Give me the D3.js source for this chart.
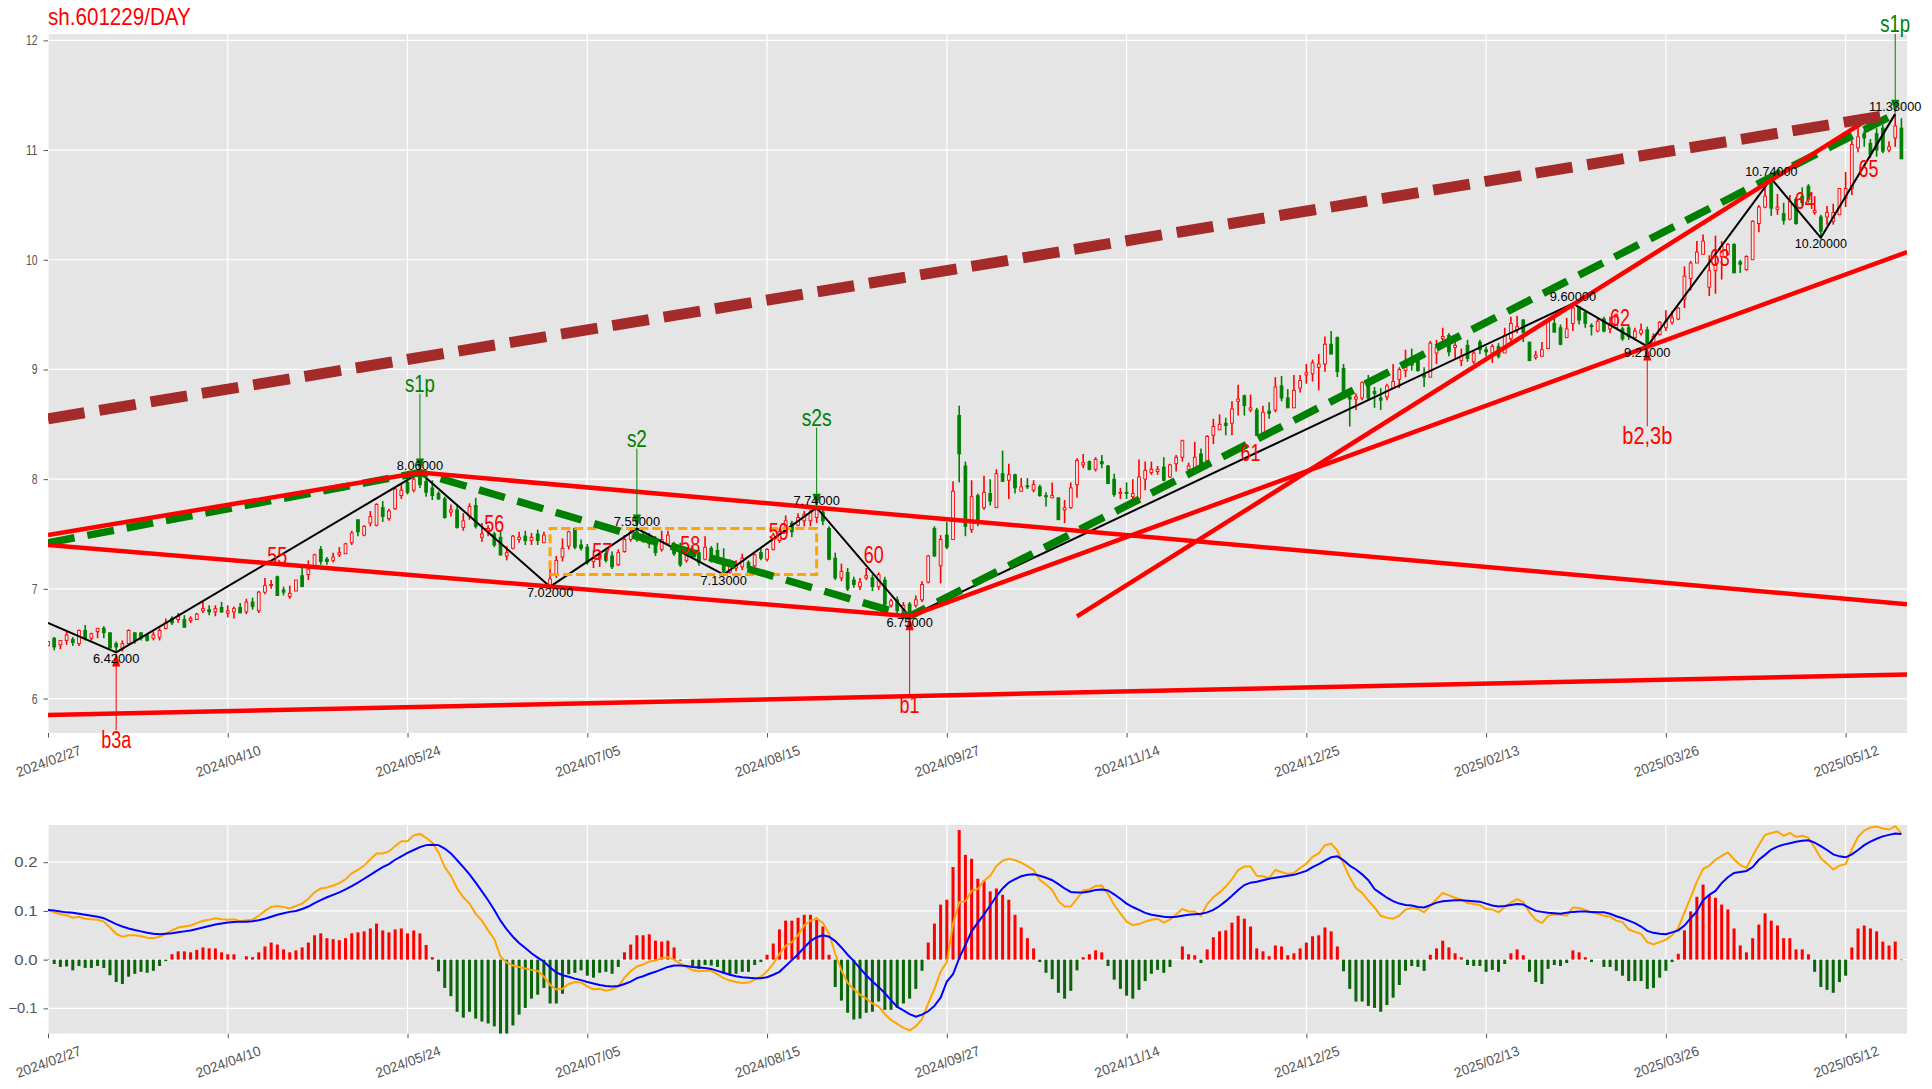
<!DOCTYPE html>
<html>
<head>
<meta charset="utf-8">
<script src="https://cdn.jsdelivr.net/npm/d3@7"></script>
<style>
body { margin: 0; background: #fff; }
text { font-family: "Liberation Sans", "DejaVu Sans", sans-serif; }
</style>
</head>
<body>
<script>
var tickIdx = [0, 29, 58, 87, 116, 145, 174, 203, 232, 261, 290];
var tickLabels = ["2024/02/27", "2024/04/10", "2024/05/24", "2024/07/05", "2024/08/15", "2024/09/27", "2024/11/14", "2024/12/25", "2025/02/13", "2025/03/26", "2025/05/12"];
var priceTicks = [6, 7, 8, 9, 10, 11, 12];
var macdTicks = [-0.1, 0, 0.1, 0.2];

// open, high, low, close
var ohlc = [
[6.48,6.52,6.48,6.52],[6.55,6.56,6.44,6.47],[6.49,6.53,6.45,6.53],[6.53,6.61,6.49,6.58],[6.54,6.56,6.48,6.51],[6.50,6.63,6.48,6.62],[6.62,6.67,6.53,6.55],[6.55,6.60,6.53,6.59],[6.61,6.64,6.55,6.64],[6.64,6.66,6.55,6.60],
[6.60,6.60,6.46,6.46],[6.50,6.52,6.42,6.47],[6.46,6.53,6.43,6.50],[6.50,6.63,6.50,6.62],[6.60,6.60,6.50,6.53],[6.60,6.60,6.53,6.55],[6.58,6.59,6.52,6.53],[6.55,6.61,6.53,6.58],[6.56,6.64,6.53,6.62],[6.64,6.73,6.63,6.69],
[6.73,6.75,6.67,6.69],[6.72,6.78,6.69,6.75],[6.72,6.76,6.65,6.65],[6.71,6.75,6.69,6.73],[6.72,6.78,6.72,6.77],[6.80,6.88,6.78,6.82],[6.81,6.85,6.76,6.79],[6.79,6.85,6.75,6.82],[6.83,6.88,6.78,6.79],[6.78,6.85,6.74,6.80],
[6.79,6.84,6.73,6.82],[6.83,6.87,6.78,6.78],[6.79,6.91,6.77,6.88],[6.88,6.92,6.81,6.84],[6.80,6.98,6.78,6.97],[6.97,7.10,6.95,7.03],[7.03,7.08,7.00,7.04],[7.11,7.12,6.94,6.94],[6.99,7.02,6.94,6.97],[6.93,7.03,6.91,6.96],
[6.98,7.08,6.98,7.08],[7.12,7.22,7.02,7.02],[7.13,7.26,7.08,7.18],[7.21,7.32,7.20,7.31],[7.36,7.39,7.22,7.25],[7.27,7.29,7.22,7.25],[7.26,7.33,7.24,7.29],[7.31,7.38,7.29,7.33],[7.32,7.42,7.32,7.41],[7.42,7.53,7.40,7.51],
[7.63,7.63,7.48,7.52],[7.49,7.58,7.48,7.57],[7.60,7.71,7.57,7.66],[7.58,7.78,7.57,7.77],[7.74,7.80,7.61,7.66],[7.64,7.73,7.62,7.71],[7.73,7.92,7.72,7.91],[7.85,7.96,7.82,7.90],[7.97,8.01,7.86,7.88],[7.90,8.02,7.88,8.00],
[8.03,8.06,7.92,7.95],[7.98,8.04,7.84,7.88],[7.92,7.99,7.81,7.85],[7.87,7.89,7.81,7.82],[7.82,7.84,7.64,7.65],[7.70,7.77,7.66,7.72],[7.72,7.77,7.55,7.56],[7.56,7.69,7.53,7.62],[7.66,7.78,7.63,7.75],[7.76,7.83,7.55,7.57],
[7.47,7.60,7.43,7.50],[7.52,7.58,7.48,7.55],[7.50,7.52,7.38,7.40],[7.47,7.53,7.30,7.31],[7.30,7.39,7.26,7.33],[7.37,7.49,7.36,7.48],[7.45,7.52,7.42,7.47],[7.48,7.53,7.40,7.44],[7.44,7.51,7.40,7.47],[7.50,7.54,7.40,7.44],
[7.42,7.52,7.42,7.49],[7.03,7.20,7.02,7.09],[7.13,7.30,7.10,7.26],[7.29,7.46,7.25,7.37],[7.39,7.53,7.36,7.52],[7.55,7.56,7.36,7.38],[7.40,7.45,7.35,7.37],[7.38,7.41,7.22,7.24],[7.25,7.35,7.19,7.28],[7.27,7.35,7.20,7.30],
[7.32,7.37,7.24,7.26],[7.30,7.34,7.18,7.20],[7.22,7.36,7.21,7.33],[7.34,7.49,7.33,7.45],[7.45,7.55,7.43,7.52],[7.52,7.55,7.43,7.45],[7.49,7.52,7.42,7.44],[7.47,7.51,7.37,7.41],[7.44,7.48,7.30,7.33],[7.36,7.53,7.34,7.45],
[7.41,7.53,7.39,7.49],[7.41,7.43,7.30,7.32],[7.38,7.42,7.20,7.22],[7.26,7.36,7.24,7.30],[7.35,7.39,7.28,7.29],[7.33,7.36,7.21,7.24],[7.27,7.48,7.26,7.38],[7.37,7.39,7.24,7.27],[7.35,7.42,7.23,7.25],[7.25,7.37,7.13,7.16],
[7.15,7.27,7.14,7.25],[7.19,7.26,7.16,7.22],[7.20,7.32,7.17,7.28],[7.24,7.26,7.17,7.19],[7.21,7.32,7.20,7.31],[7.33,7.37,7.26,7.28],[7.27,7.37,7.25,7.36],[7.36,7.51,7.35,7.49],[7.44,7.55,7.42,7.52],[7.52,7.67,7.51,7.62],
[7.60,7.62,7.47,7.52],[7.58,7.69,7.57,7.65],[7.62,7.71,7.57,7.68],[7.62,7.72,7.57,7.70],[7.65,7.74,7.60,7.72],[7.70,7.72,7.58,7.62],[7.55,7.57,7.26,7.27],[7.28,7.33,7.08,7.10],[7.10,7.23,7.07,7.16],[7.15,7.19,6.98,7.00],
[7.08,7.11,7.01,7.04],[7.02,7.10,6.99,7.06],[7.10,7.19,7.08,7.12],[7.10,7.13,6.98,7.02],[7.02,7.15,6.99,7.13],[7.08,7.11,6.84,6.86],[6.85,6.91,6.83,6.89],[6.90,6.93,6.78,6.80],[6.80,6.88,6.78,6.85],[6.86,6.88,6.75,6.78],
[6.85,6.94,6.83,6.90],[6.90,7.07,6.88,7.04],[7.06,7.31,7.05,7.30],[7.55,7.57,7.29,7.30],[7.21,7.49,7.05,7.45],[7.49,7.61,7.36,7.38],[7.45,7.98,7.45,7.89],[8.58,8.67,7.97,8.23],[8.12,8.16,7.48,7.57],[7.54,7.99,7.51,7.84],
[7.85,7.87,7.57,7.60],[7.74,8.03,7.72,7.88],[7.87,8.00,7.76,7.80],[7.74,8.09,7.74,8.05],[8.05,8.26,7.98,7.98],[7.99,8.14,7.82,8.04],[8.04,8.05,7.87,7.92],[7.89,8.01,7.89,7.93],[7.94,8.01,7.91,7.93],[7.90,7.99,7.88,7.95],
[7.93,7.95,7.84,7.85],[7.85,7.88,7.75,7.84],[7.83,7.97,7.83,7.85],[7.83,7.83,7.63,7.63],[7.72,7.81,7.60,7.74],[7.74,7.97,7.73,7.92],[7.95,8.19,7.83,8.17],[8.13,8.23,8.10,8.15],[8.16,8.17,8.08,8.09],[8.09,8.20,8.07,8.18],
[8.16,8.22,8.10,8.14],[8.12,8.13,7.96,7.96],[8.00,8.05,7.84,7.86],[7.87,7.92,7.82,7.88],[7.88,7.97,7.82,7.87],[7.84,8.00,7.79,7.87],[7.82,8.18,7.82,8.02],[8.00,8.16,7.90,8.08],[8.06,8.16,8.04,8.09],[8.07,8.12,8.04,8.09],
[8.11,8.20,7.98,7.99],[8.02,8.14,8.01,8.13],[8.14,8.22,8.07,8.20],[8.20,8.36,8.16,8.35],[8.09,8.15,8.01,8.12],[8.10,8.34,8.09,8.20],[8.23,8.28,8.08,8.10],[8.17,8.40,8.17,8.39],[8.40,8.55,8.32,8.48],[8.45,8.59,8.45,8.50],
[8.51,8.56,8.40,8.49],[8.51,8.71,8.40,8.64],[8.71,8.86,8.58,8.73],[8.76,8.77,8.58,8.67],[8.63,8.77,8.61,8.65],[8.63,8.65,8.40,8.40],[8.41,8.67,8.41,8.61],[8.62,8.70,8.55,8.60],[8.63,8.93,8.61,8.84],[8.85,8.94,8.71,8.74],
[8.74,8.82,8.65,8.65],[8.65,8.95,8.65,8.81],[8.83,8.95,8.79,8.90],[8.95,9.05,8.87,8.97],[8.96,9.09,8.89,9.06],[9.02,9.14,8.81,9.05],[9.05,9.30,8.98,9.23],[9.23,9.35,9.14,9.14],[9.29,9.30,8.93,8.98],[9.01,9.05,8.74,8.74],
[8.75,8.77,8.48,8.73],[8.73,8.78,8.63,8.75],[8.74,8.89,8.72,8.88],[8.90,8.95,8.72,8.74],[8.80,8.84,8.65,8.78],[8.74,8.83,8.63,8.72],[8.75,8.87,8.72,8.85],[8.83,9.05,8.83,8.89],[8.91,9.02,8.83,9.00],[8.99,9.18,8.93,9.02],
[9.10,9.19,8.99,9.04],[9.08,9.12,8.98,8.99],[8.96,9.02,8.84,8.93],[8.93,9.26,8.93,9.24],[9.15,9.27,9.05,9.20],[9.28,9.38,9.25,9.30],[9.31,9.33,9.12,9.16],[9.20,9.27,9.10,9.22],[9.08,9.19,9.03,9.12],[9.22,9.27,9.07,9.10],
[9.07,9.17,9.05,9.15],[9.25,9.27,9.14,9.18],[9.18,9.21,9.12,9.16],[9.15,9.23,9.06,9.21],[9.21,9.24,9.10,9.12],[9.15,9.38,9.15,9.31],[9.28,9.48,9.24,9.42],[9.36,9.49,9.33,9.39],[9.45,9.46,9.25,9.34],[9.25,9.25,9.08,9.08],
[9.11,9.17,9.09,9.13],[9.12,9.25,9.12,9.18],[9.19,9.45,9.19,9.44],[9.42,9.48,9.34,9.34],[9.38,9.41,9.22,9.23],[9.29,9.47,9.29,9.37],[9.42,9.60,9.35,9.56],[9.57,9.57,9.41,9.45],[9.52,9.54,9.38,9.42],[9.40,9.42,9.31,9.39],
[9.35,9.47,9.34,9.44],[9.46,9.48,9.34,9.35],[9.37,9.48,9.33,9.42],[9.38,9.51,9.37,9.50],[9.37,9.39,9.26,9.28],[9.38,9.41,9.27,9.30],[9.29,9.38,9.28,9.35],[9.33,9.42,9.31,9.36],[9.36,9.39,9.21,9.23],[9.23,9.33,9.22,9.30],
[9.32,9.44,9.31,9.43],[9.38,9.54,9.35,9.44],[9.43,9.53,9.41,9.47],[9.46,9.57,9.45,9.56],[9.64,9.94,9.56,9.85],[9.83,9.99,9.72,9.97],[9.97,10.17,9.97,10.07],[10.05,10.23,10.05,10.17],[9.75,10.04,9.67,9.90],[9.90,10.22,9.69,9.95],
[10.03,10.17,9.82,10.12],[10.05,10.15,10.04,10.14],[10.14,10.15,9.88,9.88],[9.98,10.00,9.88,9.96],[9.91,10.04,9.90,10.03],[10.00,10.36,10.00,10.35],[10.33,10.50,10.25,10.48],[10.48,10.68,10.47,10.58],[10.73,10.74,10.40,10.47],[10.46,10.60,10.41,10.48],
[10.42,10.52,10.32,10.36],[10.37,10.59,10.36,10.53],[10.55,10.57,10.32,10.33],[10.58,10.66,10.49,10.52],[10.67,10.69,10.52,10.55],[10.43,10.58,10.41,10.45],[10.39,10.41,10.20,10.26],[10.39,10.49,10.32,10.43],[10.35,10.51,10.32,10.43],[10.41,10.65,10.41,10.65],
[10.56,10.80,10.48,10.65],[10.65,11.09,10.59,11.05],[11.02,11.23,10.98,11.12],[11.15,11.18,11.03,11.11],[11.06,11.10,10.93,10.96],[11.15,11.20,10.94,11.00],[11.20,11.23,10.97,10.99],[11.00,11.08,10.98,11.03],[11.11,11.33,11.03,11.22],[11.20,11.29,10.92,10.92]
];

var dif = [
.102,.097,.093,.091,.086,.088,.084,.083,.082,.078,
.066,.053,.047,.05,.05,.048,.045,.044,.047,.053,
.06,.066,.068,.07,.075,.08,.082,.085,.083,.082,
.083,.079,.081,.082,.09,.1,.108,.11,.108,.105,
.11,.115,.125,.138,.146,.148,.152,.157,.165,.177,
.184,.193,.206,.218,.218,.222,.233,.243,.243,.255,
.258,.25,.24,.22,.19,.172,.146,.128,.115,.094,
.08,.06,.042,.006,-.006,-.012,-.015,-.018,-.021,-.023,
-.035,-.052,-.061,-.06,-.05,-.046,-.047,-.055,-.061,-.06,
-.064,-.061,-.055,-.037,-.024,-.014,-.01,-.004,-.002,.003,
.005,0,-.008,-.015,-.022,-.024,-.023,-.023,-.03,-.038,
-.043,-.046,-.048,-.047,-.041,-.035,-.024,-.009,.012,.028,
.036,.05,.07,.08,.084,.076,.053,.012,-.022,-.048,
-.061,-.072,-.08,-.09,-.096,-.112,-.124,-.132,-.14,-.145,
-.137,-.122,-.09,-.06,-.025,-.005,.073,.118,.12,.141,
.145,.162,.172,.192,.203,.207,.204,.199,.192,.184,
.164,.154,.143,.12,.109,.109,.125,.142,.144,.151,
.152,.135,.112,.095,.078,.071,.073,.078,.082,.084,
.076,.082,.093,.104,.099,.099,.09,.114,.128,.138,
.15,.165,.184,.191,.191,.172,.171,.167,.184,.18,
.176,.178,.188,.197,.211,.218,.235,.238,.224,.196,
.169,.147,.137,.121,.107,.09,.086,.084,.09,.103,
.106,.104,.097,.111,.124,.137,.132,.127,.123,.116,
.114,.112,.104,.103,.097,.108,.117,.124,.118,.097,
.082,.075,.09,.093,.092,.09,.107,.106,.102,.097,
.094,.09,.088,.08,.077,.062,.057,.053,.036,.031,
.036,.041,.05,.065,.097,.128,.16,.186,.193,.205,
.213,.22,.206,.194,.188,.213,.235,.256,.26,.263,
.254,.26,.252,.254,.25,.23,.208,.197,.185,.193,
.196,.226,.252,.265,.271,.273,.269,.267,.274,.259
];

var dea = [
.102,.101,.099,.097,.096,.094,.092,.09,.088,.085,
.079,.073,.068,.064,.061,.058,.055,.053,.052,.053,
.054,.056,.058,.06,.063,.066,.069,.072,.074,.076,
.077,.078,.078,.079,.081,.084,.088,.092,.095,.098,
.1,.104,.109,.116,.122,.128,.133,.138,.144,.151,
.158,.166,.174,.182,.19,.196,.205,.212,.219,.225,
.231,.235,.236,.235,.228,.218,.204,.19,.175,.158,
.14,.122,.102,.08,.062,.047,.034,.024,.013,.004,
-.004,-.016,-.026,-.032,-.035,-.039,-.042,-.046,-.049,-.052,
-.054,-.055,-.054,-.05,-.045,-.038,-.034,-.029,-.025,-.02,
-.015,-.012,-.012,-.013,-.015,-.016,-.017,-.019,-.023,-.027,
-.031,-.034,-.036,-.037,-.038,-.038,-.036,-.031,-.025,-.013,
-.001,.011,.025,.038,.046,.05,.047,.038,.025,.01,
-.003,-.018,-.032,-.045,-.056,-.069,-.083,-.097,-.104,-.112,
-.117,-.113,-.106,-.095,-.078,-.045,-.03,.003,.03,.058,
.076,.093,.111,.13,.146,.158,.165,.171,.174,.175,
.172,.168,.163,.155,.146,.139,.138,.138,.14,.143,
.144,.142,.134,.125,.115,.108,.102,.096,.092,.09,
.088,.087,.088,.09,.092,.093,.094,.097,.102,.11,
.12,.131,.143,.153,.158,.16,.163,.166,.168,.17,
.172,.174,.178,.182,.19,.196,.203,.21,.212,.204,
.193,.185,.175,.163,.145,.136,.127,.12,.115,.112,
.111,.108,.107,.112,.117,.12,.121,.122,.122,.121,
.12,.119,.115,.111,.109,.11,.112,.114,.113,.106,
.1,.098,.096,.095,.094,.096,.098,.099,.099,.098,
.097,.097,.094,.089,.085,.08,.075,.068,.059,.055,
.053,.052,.056,.06,.07,.085,.099,.122,.133,.141,
.157,.169,.178,.18,.182,.19,.205,.215,.226,.232,
.236,.239,.242,.244,.245,.24,.233,.225,.216,.212,
.21,.216,.225,.235,.242,.248,.253,.256,.259,.258
];

var hist = [
.001,-.009,-.015,-.014,-.022,-.013,-.017,-.017,-.013,-.017,
-.032,-.046,-.05,-.035,-.029,-.025,-.027,-.023,-.013,-.003,
.011,.017,.017,.015,.02,.025,.023,.023,.015,.011,
.011,.0005,.007,.005,.015,.027,.035,.031,.021,.015,
.019,.025,.035,.05,.054,.044,.042,.04,.044,.054,
.056,.058,.064,.074,.06,.056,.062,.064,.054,.06,
.054,.03,.005,-.024,-.058,-.075,-.107,-.119,-.107,-.121,
-.127,-.131,-.137,-.152,-.152,-.135,-.113,-.099,-.08,-.072,
-.058,-.09,-.09,-.07,-.03,-.027,-.022,-.033,-.037,-.027,
-.025,-.029,-.015,.015,.031,.05,.05,.052,.039,.037,
.039,.025,-.002,0,-.014,-.019,-.011,-.012,-.015,-.029,
-.031,-.029,-.025,-.025,-.011,-.005,.01,.033,.062,.08,
.08,.086,.092,.092,.086,.068,.01,-.056,-.084,-.109,
-.123,-.121,-.109,-.107,-.086,-.103,-.103,-.099,-.09,-.08,
-.06,-.023,.035,.074,.113,.123,.19,.266,.215,.207,
.166,.162,.14,.146,.133,.123,.092,.066,.044,.023,
-.005,-.027,-.04,-.068,-.08,-.064,-.022,.005,.011,.019,
.015,-.013,-.041,-.06,-.074,-.08,-.062,-.044,-.029,-.021,
-.027,-.015,0,.027,.011,.009,-.007,.021,.046,.058,
.06,.076,.09,.084,.068,.023,.017,.007,.029,.027,
.009,.013,.023,.035,.048,.05,.066,.058,.027,-.024,
-.06,-.086,-.086,-.095,-.099,-.107,-.093,-.078,-.052,-.023,
-.013,-.015,-.023,.01,.023,.039,.025,.013,.005,-.011,
-.013,-.013,-.025,-.021,-.025,-.009,.013,.021,.009,-.025,
-.046,-.05,-.019,-.011,-.013,-.007,.019,.015,.005,-.005,
0,-.015,-.015,-.023,-.033,-.044,-.044,-.044,-.06,-.058,
-.037,-.023,-.005,.012,.06,.099,.129,.154,.133,.127,
.113,.103,.064,.029,.015,.044,.072,.095,.08,.07,
.044,.044,.021,.021,.011,-.025,-.056,-.062,-.068,-.046,
-.033,.025,.064,.07,.064,.058,.037,.029,.037,-.001
];

// zigzag pivots: [bar index, price]
var zigzag = [[0,6.69],[11,6.42],[60,8.06],[81,7.02],[95,7.55],[109,7.13],[124,7.74],[139,6.75],[246,9.60],[258,9.21],[278,10.74],[286,10.20],[298,11.33]];
var pivotLabels = ["", "6.42000", "8.06000", "7.02000", "7.55000", "7.13000", "7.74000", "6.75000", "9.60000", "9.21000", "10.74000", "10.20000", "11.33000"];

var redLines = [
  [[0,7.49],[60,8.06],[299.9,6.86]],
  [[0,7.40],[139,6.75],[299.9,10.07]],
  [[0,5.85],[299.9,6.22]],
  [[166,6.75],[295,11.33]]
];
var greenDash = [[0,7.42],[60,8.06],[139,6.75],[298,11.33]];
var brownDash = [[0,8.55],[298,11.33]];
var orangeBox = [[81,7.13],[124,7.13],[124,7.55],[81,7.55],[81,7.13]];

var waveNames = ["55","56","57","58","59","60","61","62","63","64","65"];
var waveIdx = [37,72,89.4,103.6,117.9,133.2,194,253.6,269.7,283.4,293.7];
var wavePrice = [7.30,7.595,7.336,7.40,7.52,7.31,8.235,9.47,10.02,10.54,10.83];

// signal arrows: name, bar, tip price, price of label
var signals = [
  ["s1p",60,8.06,8.87,"green"],
  ["s2",95,7.55,8.37,"green"],
  ["s2s",124,7.74,8.56,"green"],
  ["s1p",298,11.33,12.15,"green"],
  ["b3a",11,6.42,5.62,"red"],
  ["b1",139,6.75,5.94,"red"],
  ["b2,3b",258,9.21,8.39,"red"]
];

var W = 1932, H = 1089;
var left = 48, right = 1907;
var svg = d3.select("body").append("svg").attr("width", W).attr("height", H).style("display", "block");

var x = d3.scaleLinear().domain([0, 299.9]).range([left, right]);
var y = d3.scaleLinear().domain([5.686, 12.058]).range([733, 34]);
var ym = d3.scaleLinear().domain([-0.152, 0.2763]).range([1033.7, 825]);

// glyphs squeezed to half-em cells, a dot takes a wider cell
function cellLen(s, size) {
  var extra = (s.match(/\./g) || []).length;
  return (s.length + extra) * size / 2;
}

function addText(g, s, px, py, size, color, anchor) {
  return g.append("text")
    .attr("x", px).attr("y", py)
    .attr("font-size", size * 1.15).attr("fill", color)
    .attr("text-anchor", anchor || "middle")
    .attr("dominant-baseline", "central")
    .attr("textLength", cellLen(s, size))
    .attr("lengthAdjust", "spacingAndGlyphs")
    .text(s);
}

function panel(name, yScale, ticks, fmt) {
  var top = yScale.range()[1], bottom = yScale.range()[0];
  var g = svg.append("g").attr("class", name);
  g.append("rect").attr("x", left).attr("y", top).attr("width", right - left).attr("height", bottom - top).attr("fill", "#E5E5E5");

  g.selectAll("line.gy").data(ticks).enter().append("line").attr("class", "gy")
    .attr("x1", left).attr("x2", right)
    .attr("y1", function(d) { return yScale(d); }).attr("y2", function(d) { return yScale(d); })
    .attr("stroke", "#fff").attr("stroke-width", 1.2);
  g.selectAll("line.gx").data(tickIdx).enter().append("line").attr("class", "gx")
    .attr("x1", function(d) { return x(d); }).attr("x2", function(d) { return x(d); })
    .attr("y1", top).attr("y2", bottom)
    .attr("stroke", "#fff").attr("stroke-width", 1.2);

  var ax = d3.axisLeft(yScale).tickValues(ticks).tickSize(4.5).tickPadding(6).tickFormat(fmt);
  var ag = g.append("g").attr("transform", "translate(" + left + ",0)").call(ax);
  ag.select(".domain").remove();
  ag.selectAll("line").attr("stroke", "#555");
  ag.selectAll("text").attr("fill", "#555").attr("font-size", 14)
    .attr("textLength", function(d) { return cellLen(fmt(d), 11.6); })
    .attr("lengthAdjust", "spacingAndGlyphs");

  var bx = d3.axisBottom(x).tickValues(tickIdx).tickSize(4.5)
    .tickFormat(function(d, i) { return tickLabels[i]; });
  var bg = g.append("g").attr("transform", "translate(0," + bottom + ")").call(bx);
  bg.select(".domain").remove();
  bg.selectAll("line").attr("stroke", "#555");
  bg.selectAll("text")
    .attr("fill", "#555").attr("font-size", 14)
    .attr("x", 0).attr("y", 0).attr("dy", null)
    .attr("dominant-baseline", "central")
    .attr("text-anchor", "middle")
    .attr("transform", "translate(0,28) rotate(-20)")
    .attr("textLength", 68)
    .attr("lengthAdjust", "spacingAndGlyphs");
  return g;
}

panel("price", y, priceTicks, function(d) { return String(d); });
panel("macd", ym, macdTicks, function(d) { return d3.format(".1f")(d); });

var defs = svg.append("defs");
defs.append("clipPath").attr("id", "clipPrice").append("rect")
  .attr("x", left).attr("y", 34).attr("width", right - left).attr("height", 699);
defs.append("clipPath").attr("id", "clipMacd").append("rect")
  .attr("x", left).attr("y", 825).attr("width", right - left).attr("height", 208.7);

// candles
var cg = svg.append("g").attr("clip-path", "url(#clipPrice)");
var bodyW = 2.8;
var candle = cg.selectAll("g.c").data(ohlc).enter().append("g").attr("class", "c");
candle.append("line")
  .attr("x1", function(d, i) { return x(i); }).attr("x2", function(d, i) { return x(i); })
  .attr("y1", function(d) { return y(d[1]); }).attr("y2", function(d) { return y(d[2]); })
  .attr("stroke", function(d) { return d[3] >= d[0] ? "red" : "green"; })
  .attr("stroke-width", 1.6);
candle.append("rect")
  .attr("x", function(d, i) { return x(i) - bodyW / 2; })
  .attr("width", bodyW)
  .attr("y", function(d) { return y(Math.max(d[0], d[3])); })
  .attr("height", function(d) { return Math.max(1, Math.abs(y(d[0]) - y(d[3]))); })
  .attr("fill", function(d) { return d[3] >= d[0] ? "#F0E8E8" : "green"; })
  .attr("stroke", function(d) { return d[3] >= d[0] ? "red" : "green"; })
  .attr("stroke-width", 0.9);

var line = d3.line().x(function(d) { return x(d[0]); }).y(function(d) { return y(d[1]); });
var lg = svg.append("g").attr("clip-path", "url(#clipPrice)").attr("fill", "none");

lg.append("path").attr("d", line(zigzag)).attr("stroke", "#000").attr("stroke-width", 2);
lg.append("path").attr("d", line(orangeBox)).attr("stroke", "orange").attr("stroke-width", 3).attr("stroke-dasharray", "9,4");
lg.append("path").attr("d", line(greenDash)).attr("stroke", "green").attr("stroke-width", 7.5).attr("stroke-dasharray", "27,13");
redLines.forEach(function(l) {
  lg.append("path").attr("d", line(l)).attr("stroke", "red").attr("stroke-width", 4.5);
});
lg.append("path").attr("d", line(brownDash)).attr("stroke", "#A52A2A").attr("stroke-width", 11).attr("stroke-dasharray", "37,15");

// signals
var sg = svg.append("g");
signals.forEach(function(s) {
  var px = x(s[1]), tip = y(s[2]), ty = y(s[3]);
  var dir = ty < tip ? 1 : -1;
  var start = ty + dir * 10;
  sg.append("line").attr("x1", px).attr("x2", px).attr("y1", start).attr("y2", tip - dir * 10)
    .attr("stroke", s[4]).attr("stroke-width", 1);
  sg.append("path")
    .attr("d", "M" + (px - 4) + "," + (tip - dir * 14) + "L" + (px + 4) + "," + (tip - dir * 14) + "L" + px + "," + tip + "Z")
    .attr("fill", s[4]);
  addText(sg, s[0], px, ty, 20, s[4]);
});

// pivot prices
var tg = svg.append("g");
zigzag.forEach(function(p, i) {
  if (!pivotLabels[i]) return;
  var up = i % 2 == 0;
  addText(tg, pivotLabels[i], x(p[0]), y(p[1]) + (up ? -7 : 6), 11.6, "#000");
});

// wave numbers
waveNames.forEach(function(s, i) {
  addText(tg, s, x(waveIdx[i]), y(wavePrice[i]), 20, "red");
});

addText(tg, "sh.601229/DAY", left, 17, 20.4, "red", "start");

// macd
var mg = svg.append("g").attr("clip-path", "url(#clipMacd)");
mg.selectAll("rect").data(hist).enter().append("rect")
  .attr("x", function(d, i) { return x(i) - 1.5; })
  .attr("width", 3)
  .attr("y", function(d) { return d >= 0 ? ym(d) : ym(0); })
  .attr("height", function(d) { return Math.abs(ym(d) - ym(0)); })
  .attr("fill", function(d) { return d >= 0 ? "red" : "#0A640A"; });

var mline = d3.line().x(function(d, i) { return x(i); }).y(function(d) { return ym(d); });
mg.append("path").datum(dif).attr("d", mline).attr("fill", "none").attr("stroke", "orange").attr("stroke-width", 2);
mg.append("path").datum(dea).attr("d", mline).attr("fill", "none").attr("stroke", "blue").attr("stroke-width", 2);
</script>
</body>
</html>
